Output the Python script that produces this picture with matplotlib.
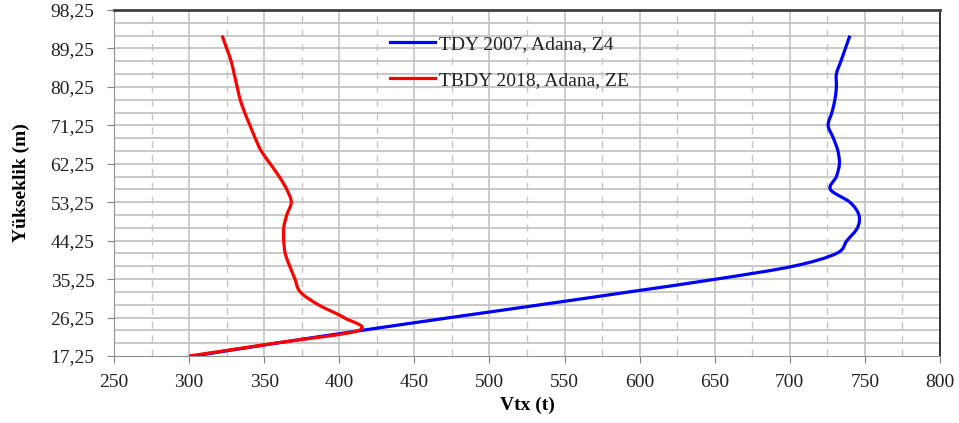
import matplotlib.pyplot as plt
import numpy as np
from matplotlib.ticker import FuncFormatter
from matplotlib.path import Path
from matplotlib.patches import PathPatch
from matplotlib.lines import Line2D

# story levels (m) and shear force for the two code cases
heights = [17.25, 20.25, 23.25, 26.25, 29.25, 32.25, 35.25, 38.25, 41.25,
           44.25, 47.25, 50.25, 53.25, 56.25, 59.25, 62.25, 65.25, 68.25,
           71.25, 74.25, 77.25, 80.25, 83.25, 86.25, 89.25, 92.25]

vtx_tdy2007 = [303, 358, 415, 474, 534, 593, 651, 702, 731,
               738, 745, 746, 740, 727, 731, 733, 732, 729,
               725.5, 728, 730, 731, 731, 734, 737, 740]

vtx_tbdy2018 = [300, 357, 413, 403, 386, 374, 370.5, 367, 364,
                363, 363, 365, 368, 365, 360, 354, 348, 344,
                340.5, 337, 334, 332, 330, 328, 325, 322]

labels = ["TDY 2007, Adana, Z4", "TBDY 2018, Adana, ZE"]
colors = ['#0000ff', '#ff0000']


def smooth_path(xs, ys):
    # cubic bezier through every point (catmull-rom style tangents)
    p = np.column_stack([xs, ys]).astype(float)
    verts = [p[0]]
    codes = [Path.MOVETO]
    n = len(p)
    for i in range(n - 1):
        p0 = p[i - 1] if i > 0 else p[i]
        p3 = p[i + 2] if i + 2 < n else p[i + 1]
        c1 = p[i] + (p[i + 1] - p0) / 6.0
        c2 = p[i + 1] - (p3 - p[i]) / 6.0
        verts += [c1, c2, p[i + 1]]
        codes += [Path.CURVE4] * 3
    return Path(verts, codes)


plt.rcParams['font.family'] = ['Liberation Serif', 'DejaVu Serif']
plt.rcParams['text.color'] = '#222222'

fig = plt.figure(figsize=(9.59, 4.23), dpi=100)
ax = fig.add_axes([0.1189, 0.1584, 0.8613, 0.818])

for vals, col, z in [(vtx_tdy2007, colors[0], 3), (vtx_tbdy2018, colors[1], 4)]:
    ax.add_patch(PathPatch(smooth_path(vals, heights), facecolor='none',
                           edgecolor=col, lw=2.3, joinstyle='round',
                           capstyle='butt', zorder=z))

ax.set_xlim(250, 800)
ax.set_ylim(17.25, 98.25)
ax.set_xticks(np.arange(250, 801, 50))
ax.set_yticks(np.arange(17.25, 98.3, 9))

comma = FuncFormatter(lambda v, p: f"{v:.2f}".replace('.', ','))
ax.yaxis.set_major_formatter(comma)

# grid: solid at major x and every story, dashed at half steps in x
for x in np.arange(300, 800, 50):
    ax.axvline(x, color='#c4c4c4', lw=1.2, zorder=1)
for x in np.arange(275, 800, 50):
    ax.axvline(x, color='#c4c4c4', lw=1.0, ls=(0, (5, 5)), zorder=1)
for y in np.arange(20.25, 98.3, 3):
    ax.axhline(y, color='#c4c4c4', lw=1.3, zorder=1)

ax.tick_params(axis='both', which='major', labelsize=14, length=5,
               color='#808080', labelcolor='#222222', direction='out')
ax.tick_params(axis='y', pad=9)
ax.tick_params(axis='x', pad=8)

ax.spines['top'].set_color('#404040')
ax.spines['top'].set_linewidth(2.0)
ax.spines['right'].set_color('#202020')
ax.spines['right'].set_linewidth(1.3)
ax.spines['left'].set_color('#909090')
ax.spines['bottom'].set_color('#909090')

ax.set_xlabel("Vtx (t)", fontsize=14, fontweight='bold', labelpad=4)
ax.set_ylabel("Yükseklik (m)", fontsize=14, fontweight='bold', labelpad=15)

handles = [Line2D([], [], color=c, lw=2.3) for c in colors]
ax.legend(handles, labels, loc='upper left', bbox_to_anchor=(0.325, 0.95),
          frameon=False, fontsize=14, handlelength=2.3, handletextpad=0.2,
          labelspacing=0.96, borderaxespad=0)

fig.savefig("out.png", dpi=100)
